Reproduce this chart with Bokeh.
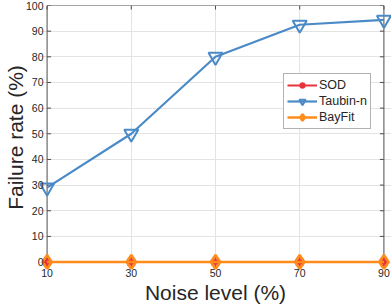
import math
from bokeh.plotting import figure
from bokeh.models import FixedTicker, Range1d, Legend, LegendItem
from bokeh.embed import file_html
from bokeh.resources import INLINE

noise = [10, 30, 50, 70, 90]
sod = [0, 0, 0, 0, 0]
taubin = [29, 50, 80, 92.5, 94.4]
bayfit = [0, 0, 0, 0, 0]
x_ticks = [10, 30, 50, 70, 90]
y_ticks = [0, 10, 20, 30, 40, 50, 60, 70, 80, 90, 100]
x_lim = [10, 90]
y_lim = [0, 100]

FONT = "Liberation Sans"
AX = "#4d4d4d"
TXT = "#262626"
RED = "#e8323c"
BLUE = "#4a8ac6"
ORANGE = "#ff8c1a"

p = figure(width=391, height=306, output_backend="svg", toolbar_location=None,
           x_range=Range1d(x_lim[0] - 1.8, x_lim[1] + 1.8),
           y_range=Range1d(y_lim[0] - 2.9, y_lim[1]),
           min_border_left=0, min_border_right=0, min_border_top=5, min_border_bottom=0,
           x_axis_label="Noise level (%)", y_axis_label="Failure rate (%)")
p.outline_line_color = None
p.background_fill_color = "white"
p.border_fill_color = "white"

for ax in (p.xaxis[0], p.yaxis[0]):
    ax.axis_line_color = None
    ax.major_tick_line_color = None
    ax.major_tick_in = 0
    ax.major_tick_out = 0
    ax.minor_tick_line_color = None
    ax.major_label_text_font = FONT
    ax.major_label_text_font_size = "10.5px"
    ax.major_label_text_color = TXT
    ax.axis_label_text_font = FONT
    ax.axis_label_text_font_size = "21px"
    ax.axis_label_text_font_style = "normal"
    ax.axis_label_text_color = TXT
p.xaxis[0].ticker = FixedTicker(ticks=x_ticks)
p.yaxis[0].ticker = FixedTicker(ticks=y_ticks)
p.xaxis[0].major_label_standoff = -1
p.xaxis[0].axis_label_standoff = 1
p.yaxis[0].major_label_standoff = -4
p.yaxis[0].axis_label_standoff = -4

p.xgrid.ticker = FixedTicker(ticks=x_ticks[1:-1])
p.ygrid.ticker = FixedTicker(ticks=y_ticks)
p.grid.grid_line_color = "#e3e3e3"
p.grid.grid_line_width = 1

# axes box drawn at the axis limits
p.quad(left=[x_lim[0]], right=[x_lim[1]], bottom=[y_lim[0]], top=[y_lim[1]],
       fill_color=None, line_color=AX, line_width=1)
# inward ticks on all four sides
p.ray(x=[x_lim[0]] * len(y_ticks), y=y_ticks, length=4, length_units="screen",
      angle=0, line_color=AX, line_width=1)
p.ray(x=[x_lim[1]] * len(y_ticks), y=y_ticks, length=4, length_units="screen",
      angle=math.pi, line_color=AX, line_width=1)
p.ray(x=x_ticks, y=[y_lim[1]] * len(x_ticks), length=4, length_units="screen",
      angle=-math.pi / 2, line_color=AX, line_width=1)
p.ray(x=x_ticks, y=[y_lim[0]] * len(x_ticks), length=4, length_units="screen",
      angle=math.pi / 2, line_color=AX, line_width=1)

r_sod_l = p.line(noise, sod, line_color=RED, line_width=2)
r_sod_m = p.scatter(noise, sod, marker="asterisk", size=10, line_color=RED, line_width=2)
r_tau_l = p.line(noise, taubin, line_color=BLUE, line_width=2.2)
r_tau_m = p.scatter(noise, taubin, marker="inverted_triangle", size=14, line_color=BLUE,
                    fill_color=None, line_width=2)
r_bay_l = p.line(noise, bayfit, line_color=ORANGE, line_width=2.5)
r_bay_m = p.scatter(noise, bayfit, marker="diamond", size=14, line_color=ORANGE,
                    fill_color=None, line_width=2.5)

legend = Legend(items=[
    LegendItem(label="SOD", renderers=[r_sod_l, r_sod_m]),
    LegendItem(label="Taubin-n", renderers=[r_tau_l, r_tau_m]),
    LegendItem(label="BayFit", renderers=[r_bay_l, r_bay_m]),
], location=(244, 140))
legend.label_text_font = FONT
legend.label_text_font_size = "12.5px"
legend.label_text_color = TXT
legend.glyph_width = 30
legend.glyph_height = 16
legend.label_height = 16
legend.label_standoff = 2
legend.spacing = 0
legend.padding = 3
legend.margin = 0
legend.border_line_color = "#666666"
legend.border_line_width = 1
legend.background_fill_alpha = 1
p.add_layout(legend)

open("out.html", "w").write(file_html(p, INLINE))
